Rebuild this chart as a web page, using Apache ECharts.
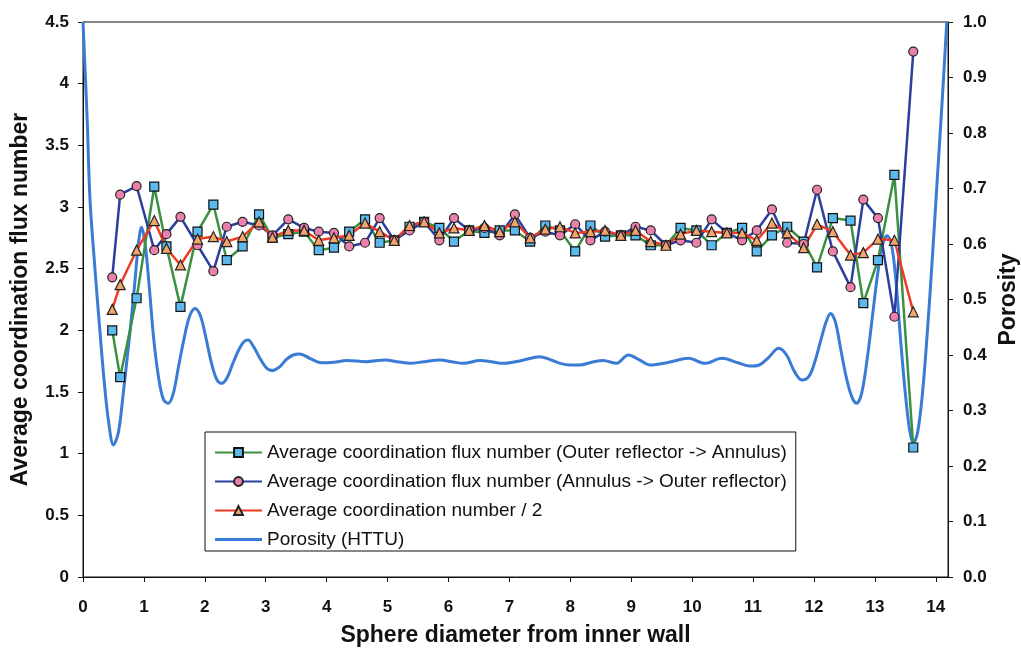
<!DOCTYPE html>
<html>
<head>
<meta charset="utf-8">
<script src="https://cdn.jsdelivr.net/npm/echarts@6/dist/echarts.min.js"></script>
<style>
html,body{margin:0;padding:0;background:#fff;}
#chart{width:1021px;height:652px;}
</style>
</head>
<body>
<div id="chart"></div>
<script>
// Sphere diameter positions of the flux / coordination points
const xPos = [0.48, 0.61, 0.88, 1.17, 1.37, 1.6, 1.88, 2.14, 2.36, 2.62, 2.89, 3.11, 3.37, 3.63, 3.87, 4.12, 4.37, 4.63, 4.87, 5.11, 5.36, 5.6, 5.85, 6.09, 6.34, 6.59, 6.84, 7.09, 7.34, 7.59, 7.83, 8.08, 8.33, 8.57, 8.83, 9.07, 9.32, 9.57, 9.81, 10.07, 10.32, 10.57, 10.82, 11.06, 11.31, 11.56, 11.83, 12.05, 12.31, 12.6, 12.81, 13.05, 13.32, 13.63];
// Average coordination flux number (Outer reflector -> Annulus)
const fluxOuterToAnnulus = [2.00, 1.62, 2.26, 3.165, 2.68, 2.19, 2.80, 3.02, 2.57, 2.68, 2.94, 2.75, 2.78, 2.80, 2.65, 2.67, 2.80, 2.90, 2.71, 2.73, 2.84, 2.88, 2.83, 2.72, 2.81, 2.79, 2.81, 2.81, 2.72, 2.85, 2.81, 2.64, 2.85, 2.76, 2.77, 2.77, 2.69, 2.69, 2.83, 2.81, 2.69, 2.79, 2.83, 2.64, 2.77, 2.84, 2.72, 2.51, 2.91, 2.89, 2.22, 2.57, 3.26, 1.05];
// Average coordination flux number (Annulus -> Outer reflector)
const fluxAnnulusToOuter = [2.43, 3.10, 3.17, 2.65, 2.78, 2.92, 2.69, 2.48, 2.84, 2.88, 2.85, 2.77, 2.90, 2.83, 2.80, 2.79, 2.68, 2.71, 2.91, 2.73, 2.81, 2.88, 2.73, 2.91, 2.81, 2.83, 2.77, 2.94, 2.75, 2.80, 2.77, 2.86, 2.73, 2.80, 2.77, 2.84, 2.81, 2.69, 2.73, 2.71, 2.90, 2.79, 2.73, 2.81, 2.98, 2.71, 2.70, 3.14, 2.64, 2.35, 3.06, 2.91, 2.11, 4.26];
// Average coordination number / 2
const coordHalf = [2.17, 2.37, 2.65, 2.89, 2.665, 2.53, 2.74, 2.76, 2.72, 2.76, 2.88, 2.755, 2.81, 2.81, 2.73, 2.75, 2.77, 2.87, 2.80, 2.73, 2.85, 2.88, 2.79, 2.83, 2.81, 2.85, 2.80, 2.88, 2.75, 2.82, 2.84, 2.79, 2.80, 2.81, 2.77, 2.81, 2.72, 2.69, 2.78, 2.81, 2.80, 2.79, 2.79, 2.73, 2.87, 2.79, 2.67, 2.86, 2.80, 2.61, 2.63, 2.74, 2.73, 2.15];
// Porosity (HTTU) profile
const porX = [0, 0.07, 0.115, 0.2, 0.28, 0.35, 0.42, 0.5, 0.58, 0.65, 0.72, 0.78, 0.85, 0.91, 0.96, 1.02, 1.09, 1.16, 1.24, 1.32, 1.40, 1.48, 1.57, 1.66, 1.75, 1.84, 1.93, 2.02, 2.11, 2.2, 2.28, 2.37, 2.46, 2.56, 2.64, 2.71, 2.8, 2.9, 3.0, 3.10, 3.22, 3.34, 3.45, 3.56, 3.74, 3.92, 4.12, 4.33, 4.65, 4.96, 5.16, 5.37, 5.6, 5.86, 6.05, 6.24, 6.52, 6.70, 6.90, 7.2, 7.50, 7.66, 7.83, 8.0, 8.16, 8.35, 8.54, 8.76, 8.95, 9.12, 9.31, 9.62, 9.94, 10.21, 10.49, 10.75, 10.95, 11.1, 11.25, 11.42, 11.55, 11.68, 11.80, 11.92, 12.02, 12.12, 12.2, 12.27, 12.35, 12.44, 12.53, 12.62, 12.70, 12.78, 12.87, 12.96, 13.05, 13.13, 13.2, 13.27, 13.34, 13.42, 13.5, 13.57, 13.63, 13.7, 13.78, 13.86, 13.94, 14.02, 14.1, 14.18];
const porY = [1.0, 0.82, 0.68, 0.55, 0.44, 0.35, 0.28, 0.238, 0.26, 0.32, 0.39, 0.45, 0.53, 0.60, 0.63, 0.60, 0.52, 0.43, 0.36, 0.32, 0.313, 0.33, 0.38, 0.43, 0.47, 0.484, 0.47, 0.43, 0.385, 0.355, 0.349, 0.36, 0.385, 0.41, 0.424, 0.427, 0.415, 0.395, 0.378, 0.372, 0.378, 0.392, 0.40, 0.402, 0.393, 0.386, 0.387, 0.39, 0.388, 0.391, 0.388, 0.385, 0.388, 0.391, 0.388, 0.385, 0.39, 0.388, 0.385, 0.39, 0.397, 0.392, 0.385, 0.382, 0.382, 0.387, 0.39, 0.385, 0.40, 0.392, 0.382, 0.387, 0.394, 0.385, 0.394, 0.386, 0.38, 0.382, 0.395, 0.412, 0.40, 0.37, 0.355, 0.362, 0.39, 0.43, 0.46, 0.475, 0.46, 0.41, 0.36, 0.325, 0.313, 0.33, 0.39, 0.47, 0.55, 0.60, 0.615, 0.60, 0.54, 0.43, 0.33, 0.265, 0.241, 0.26, 0.33, 0.44, 0.57, 0.71, 0.85, 1.0];
// Tick labels
const xTicks = [0, 1, 2, 3, 4, 5, 6, 7, 8, 9, 10, 11, 12, 13, 14];
const seriesNames = [
  'Average coordination flux number (Outer reflector -> Annulus)',
  'Average coordination flux number (Annulus -> Outer reflector)',
  'Average coordination number / 2',
  'Porosity (HTTU)'
];

const FONT = "'Liberation Sans', Arial, Helvetica, sans-serif";
const pair = (arr) => xPos.map((x, i) => [x, arr[i]]);

const chart = echarts.init(document.getElementById('chart'), null, {renderer: 'canvas'});
chart.setOption({
  backgroundColor: '#ffffff',
  animation: false,
  textStyle: {fontFamily: FONT, color: '#111'},
  grid: {
    left: 83, right: 73, top: 22, bottom: 75,
    outerBoundsMode: 'none',
    show: true, borderColor: '#111', borderWidth: 1, backgroundColor: 'transparent'
  },
  legend: {
    orient: 'vertical',
    left: 205, top: 432,
    data: [
      {name: seriesNames[0]},
      {name: seriesNames[1]},
      {name: seriesNames[2]},
      {name: seriesNames[3], icon: 'path://M0,0H47V3H0Z'}
    ],
    backgroundColor: '#ffffff',
    borderColor: '#111', borderWidth: 1,
    padding: [11, 9, 2, 9],
    itemGap: 10,
    itemWidth: 47, itemHeight: 11,
    textStyle: {fontFamily: FONT, fontSize: 19, lineHeight: 18, color: '#111'}
  },
  xAxis: {
    type: 'value', min: 0, max: 14.2, interval: 1,
    name: 'Sphere diameter from inner wall',
    nameLocation: 'middle', nameGap: 47,
    nameTextStyle: {fontFamily: FONT, fontSize: 23, fontWeight: 'bold', color: '#111'},
    axisLine: {show: true, lineStyle: {color: '#111', width: 1}},
    axisTick: {show: true, length: 5, customValues: xTicks, lineStyle: {color: '#111'}},
    axisLabel: {customValues: xTicks, margin: 22, fontFamily: FONT, fontSize: 17, fontWeight: 'bold', color: '#111'},
    splitLine: {show: false}
  },
  yAxis: [{
    type: 'value', min: 0, max: 4.5, interval: 0.5,
    name: 'Average coordination flux number',
    nameLocation: 'middle', nameGap: 51, nameRotate: 90,
    nameTextStyle: {fontFamily: FONT, fontSize: 23, fontWeight: 'bold', color: '#111'},
    axisLine: {show: true, lineStyle: {color: '#111', width: 1}},
    axisTick: {show: true, length: 5, lineStyle: {color: '#111'}},
    axisLabel: {margin: 14, fontFamily: FONT, fontSize: 17, fontWeight: 'bold', color: '#111'},
    splitLine: {show: false}
  }, {
    type: 'value', min: 0, max: 1, interval: 0.1,
    position: 'right',
    name: 'Porosity',
    nameLocation: 'middle', nameGap: 49, nameRotate: 90,
    nameTextStyle: {fontFamily: FONT, fontSize: 23, fontWeight: 'bold', color: '#111'},
    axisLine: {show: true, lineStyle: {color: '#111', width: 1}},
    axisTick: {show: true, length: 5, lineStyle: {color: '#111'}},
    axisLabel: {margin: 15, fontFamily: FONT, fontSize: 17, fontWeight: 'bold', color: '#111',
      formatter: (v) => v.toFixed(1)},
    splitLine: {show: false}
  }],
  series: [{
    name: seriesNames[3], type: 'line', yAxisIndex: 1, z: 1,
    data: porX.map((x, i) => [x, porY[i]]),
    symbol: 'none', smooth: 0.35,
    lineStyle: {color: '#3a7bd5', width: 3},
    itemStyle: {color: '#3a7bd5'}
  }, {
    name: seriesNames[0], type: 'line', yAxisIndex: 0, z: 3,
    data: pair(fluxOuterToAnnulus),
    symbol: 'rect', symbolSize: 9,
    lineStyle: {color: '#3b9140', width: 2.5},
    itemStyle: {color: '#5cb9ec', borderColor: '#111', borderWidth: 1.2}
  }, {
    name: seriesNames[1], type: 'line', yAxisIndex: 0, z: 3,
    data: pair(fluxAnnulusToOuter),
    symbol: 'circle', symbolSize: 9,
    lineStyle: {color: '#2b3f9e', width: 2.5},
    itemStyle: {color: '#ec80ad', borderColor: '#222', borderWidth: 1.2}
  }, {
    name: seriesNames[2], type: 'line', yAxisIndex: 0, z: 3,
    data: pair(coordHalf),
    symbol: 'triangle', symbolSize: 10,
    lineStyle: {color: '#ee3b24', width: 2.5},
    itemStyle: {color: '#f2a46c', borderColor: '#222', borderWidth: 1.2}
  }]
});
</script>
</body>
</html>
